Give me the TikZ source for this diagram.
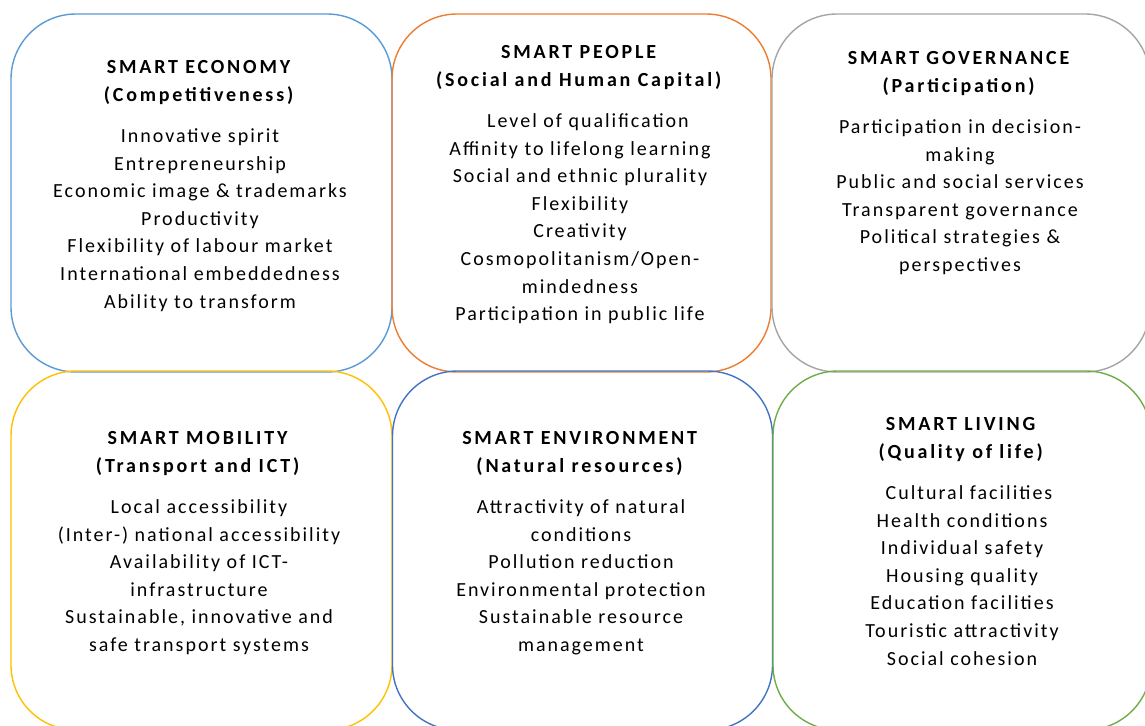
\documentclass[tikz,border=0pt]{standalone}
\usepackage{fontspec}
\setmainfont{Carlito}[LetterSpace=10]
\definecolor{cA}{HTML}{5B9BD5}
\definecolor{cB}{HTML}{ED7D31}
\definecolor{cC}{HTML}{A5A5A5}
\definecolor{cD}{HTML}{FFC000}
\definecolor{cE}{HTML}{4472C4}
\definecolor{cF}{HTML}{70AD47}
\tikzset{
  panel/.style={draw=#1, line width=1.4pt, rounded corners=65pt, rectangle, inner sep=0pt},
  paneltext/.style={anchor=north, align=center, inner sep=0pt, text=black,
    font=\fontsize{20}{27.6}\selectfont}
}
\newcommand{\ttl}[2]{{\addfontfeature{LetterSpace=14}\textbf{#1}}\\{\addfontfeature{LetterSpace=14}\textbf{#2}}\\[13.5pt]}
\begin{document}
\begin{tikzpicture}[x=1pt,y=-1pt]
\clip (0,0) rectangle (1145,725);
\fill[white] (0,0) rectangle (1145,725);
% boxes
\node[panel=cA, minimum width=381pt, minimum height=358pt] (b1) at (201.5,193) {};
\node[panel=cB, minimum width=379pt, minimum height=358pt] (b2) at (581.5,193) {};
\node[panel=cC, minimum width=378pt, minimum height=358pt] (b3) at (961,193) {};
\node[panel=cD, minimum width=381pt, minimum height=359pt] (b4) at (201.5,550.5) {};
\node[panel=cE, minimum width=380pt, minimum height=359pt] (b5) at (582.5,550.5) {};
\node[panel=cF, minimum width=378pt, minimum height=359pt] (b6) at (962,550.5) {};
% texts
\node[paneltext] (t1) at (200,60.5) {\ttl{SMART ECONOMY}{(Competitiveness)}
Innovative spirit\\ Entrepreneurship\\ Economic image \& trademarks\\ Productivity\\
Flexibility of labour market\\ International embeddedness\\ Ability to transform};
\node[paneltext] (t2) at (580,45.5) {\ttl{SMART PEOPLE}{(Social and Human Capital)}
\hspace*{16pt}Level of qualification\\ Affinity to lifelong learning\\ Social and ethnic plurality\\
Flexibility\\ Creativity\\ Cosmopolitanism/Open-\\ mindedness\\ Participation in public life};
\node[paneltext] (t3) at (960,51.5) {\ttl{SMART GOVERNANCE}{(Participation)}
Participation in decision-\\ making\\ Public and social services\\ Transparent governance\\
Political strategies \&\\ perspectives};
\node[paneltext] (t4) at (199,431.5) {\ttl{SMART MOBILITY}{(Transport and ICT)}
Local accessibility\\ (Inter-) national accessibility\\ Availability of ICT-\\ infrastructure\\
Sustainable, innovative and\\ safe transport systems};
\node[paneltext] (t5) at (581,431.5) {\ttl{SMART ENVIRONMENT}{(Natural resources)}
Attractivity of natural\\ conditions\\ Pollution reduction\\ Environmental protection\\
Sustainable resource\\ management};
\node[paneltext] (t6) at (962,417.5) {\ttl{SMART LIVING}{(Quality of life)}
\hspace*{14pt}Cultural facilities\\ Health conditions\\ Individual safety\\ Housing quality\\
Education facilities\\ Touristic attractivity\\ Social cohesion};
\end{tikzpicture}
\end{document}
